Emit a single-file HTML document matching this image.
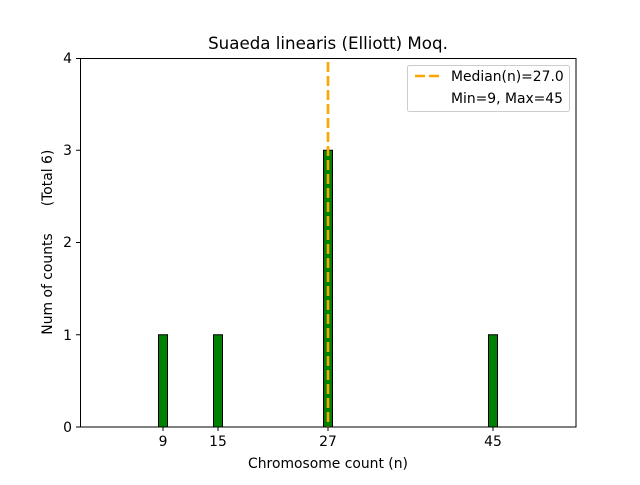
<!DOCTYPE html>
<html><head><meta charset="utf-8"><style>body{margin:0;background:#fff}</style></head><body>
<svg width="640" height="480" viewBox="0 0 640 480" xmlns="http://www.w3.org/2000/svg" font-family="DejaVu Sans, Liberation Sans, sans-serif">
<rect width="640" height="480" fill="#fff"/>
<line x1="80" y1="427" x2="525" y2="427" stroke="#000" stroke-width="1"/>
<g fill="#008000" stroke="#000" stroke-width="1">
<rect x="158.5" y="334.75" width="9" height="92.25"/>
<rect x="213.5" y="334.75" width="9" height="92.25"/>
<rect x="323.5" y="150.25" width="9" height="276.75"/>
<rect x="488.5" y="334.75" width="9" height="92.25"/>
</g>
<line x1="328" y1="62" x2="328" y2="427" stroke="#FFA500" stroke-width="2.6" stroke-dasharray="10,4"/>
<rect x="80.5" y="58.5" width="495.5" height="368.5" fill="none" stroke="#000" stroke-width="1"/>
<g stroke="#000" stroke-width="1">
<line x1="163" y1="427" x2="163" y2="431"/><line x1="218" y1="427" x2="218" y2="431"/>
<line x1="328" y1="427" x2="328" y2="431"/><line x1="493" y1="427" x2="493" y2="431"/>
<line x1="76" y1="427" x2="80" y2="427"/><line x1="76" y1="334.75" x2="80" y2="334.75"/>
<line x1="76" y1="242.5" x2="80" y2="242.5"/><line x1="76" y1="150.25" x2="80" y2="150.25"/>
<line x1="76" y1="58.5" x2="80" y2="58.5"/>
</g>
<g font-size="13.9" fill="#000" text-anchor="middle">
<text x="163" y="446">9</text><text x="218" y="446">15</text><text x="328" y="446">27</text><text x="493" y="446">45</text>
</g>
<g font-size="13.9" fill="#000" text-anchor="end">
<text x="72" y="432">0</text><text x="72" y="340">1</text><text x="72" y="247">2</text><text x="72" y="155">3</text><text x="72" y="63">4</text>
</g>
<text x="328" y="468" font-size="13.9" text-anchor="middle">Chromosome count (n)</text>
<text transform="translate(52,284) rotate(-90)" font-size="13.9" text-anchor="middle">Num of counts</text>
<text transform="translate(52,178) rotate(-90)" font-size="13.9" text-anchor="middle">(Total 6)</text>
<text x="328" y="49" font-size="16.67" text-anchor="middle">Suaeda linearis (Elliott) Moq.</text>
<rect x="407.5" y="65.5" width="162" height="46" rx="2" fill="#fff" stroke="#ccc"/>
<line x1="415" y1="76" x2="443" y2="76" stroke="#FFA500" stroke-width="2.6" stroke-dasharray="10,4"/>
<text x="451" y="81" font-size="13.9">Median(n)=27.0</text>
<text x="451" y="103" font-size="13.9">Min=9, Max=45</text>
</svg>
</body></html>
